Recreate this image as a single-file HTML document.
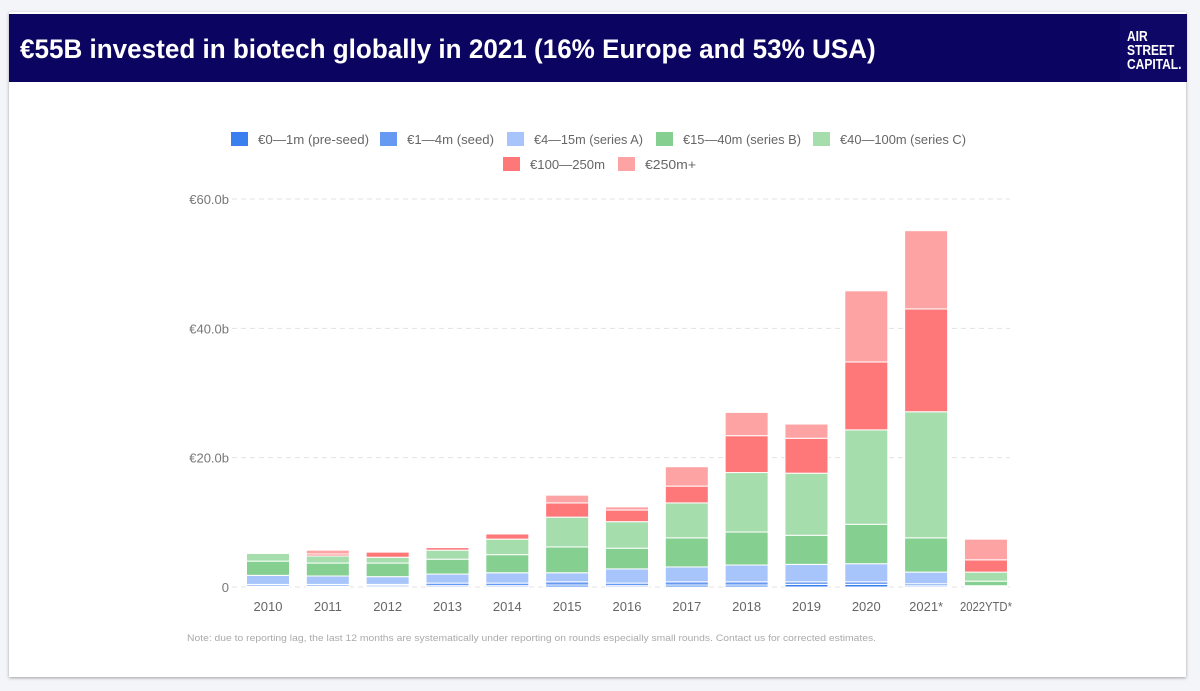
<!DOCTYPE html>
<html><head><meta charset="utf-8"><style>
html,body{margin:0;padding:0;width:1200px;height:691px;background:#f4f5f8;overflow:hidden;font-family:"Liberation Sans",sans-serif;}
#card{position:absolute;left:9px;top:12px;width:1177px;height:665px;background:#fff;box-shadow:0 1px 3px rgba(0,0,0,.35);}
#hdr{position:absolute;left:9px;top:14px;width:1178px;height:68px;background:#0b0460;}
#title{position:absolute;left:20px;top:14px;height:68px;line-height:70px;color:#fff;font-size:27px;font-weight:bold;white-space:nowrap;transform:scaleX(0.965);transform-origin:0 50%;}
#logo{position:absolute;left:1120px;top:14px;width:67px;height:68px;background:#0e0766;}
#logotext{position:absolute;left:1127px;top:30px;color:#fff;font-weight:bold;font-size:15px;line-height:14px;transform:scaleX(0.8);transform-origin:0 0;white-space:nowrap;}
svg{position:absolute;left:0;top:0;}
</style></head><body>
<div id="card"></div>
<div id="hdr"></div>
<div id="title">€55B invested in biotech globally in 2021 (16% Europe and 53% USA)</div>
<div id="logo"></div>
<div id="logotext">AIR<br>STREET<br>CAPITAL.</div>
<svg id="chart" width="1200" height="691"></svg>
<script>
const categories=["2010","2011","2012","2013","2014","2015","2016","2017","2018","2019","2020","2021*","2022YTD*"];
const seriesNames=["€0—1m (pre-seed)","€1—4m (seed)","€4—15m (series A)","€15—40m (series B)","€40—100m (series C)","€100—250m","€250m+"];
const preSeed=[0.15,0.15,0.2,0.2,0.2,0.3,0.2,0.3,0.3,0.4,0.4,0.2,0.05];
const seed=[0.25,0.25,0.2,0.4,0.4,0.5,0.4,0.5,0.5,0.4,0.4,0.3,0.05];
const seriesA=[1.4,1.3,1.2,1.4,1.6,1.4,2.2,2.3,2.6,2.7,2.8,1.8,0.1];
const seriesB=[2.2,2.0,2.1,2.3,2.8,4.0,3.2,4.5,5.1,4.5,6.1,5.3,0.7];
const seriesC=[1.2,1.1,0.9,1.4,2.4,4.6,4.1,5.4,9.2,9.6,14.6,19.5,1.4];
const series100=[0.05,0.3,0.8,0.4,0.8,2.2,1.8,2.6,5.7,5.4,10.5,15.9,1.9];
const series250=[0.15,0.6,0.1,0.1,0,1.2,0.5,3.0,3.6,2.2,11.0,12.1,3.2];
const yTicks=[0,20,40,60];
const yTickLabels=["0","€20.0b","€40.0b","€60.0b"];
const colors=["#3a7fef","#6699f2","#a7c5fa","#85cf90","#a6ddac","#fe7879","#fea3a3"];
const NS="http://www.w3.org/2000/svg";
const svg=document.getElementById('chart');
const y0=587,pxPer=(587-199)/60,x0=268,step=59.83,bw=43;
const yS=v=>y0-v*pxPer, xS=i=>x0+i*step;
function mk(t,a){const e=document.createElementNS(NS,t);for(const k in a)e.setAttribute(k,a[k]);svg.appendChild(e);return e;}
yTicks.forEach((t,i)=>{
 const l=mk('line',{x1:232,x2:1010,y1:yS(t),y2:yS(t),stroke:'#e3e3e3','stroke-dasharray':'5,4'});
 
 
 const tx=mk('text',{x:229,y:yS(t)+5,'text-anchor':'end','font-size':13,fill:'#777'});
 tx.textContent=yTickLabels[i];
 
 
});
const all=[preSeed,seed,seriesA,seriesB,seriesC,series100,series250];
categories.forEach((c,i)=>{
 let cum=0;
 all.forEach((s,k)=>{
  const v=s[i]; if(v<=0)return;
  const r=mk('rect',{x:xS(i)-bw/2,y:yS(cum+v),width:bw,height:v*pxPer,fill:colors[k],stroke:'#fff','stroke-width':1});
  
  
  cum+=v;
 });
 const t=mk('text',{x:xS(i),y:611,'text-anchor':'middle','font-size':13,fill:'#666'});
 t.textContent=c;
 if(c.length>6){t.setAttribute('textLength',52);t.setAttribute('lengthAdjust','spacingAndGlyphs');}
 
 
});
// legend: [swatch x, series index, text end x]
const row1=[[231,0,369],[380,1,494],[507,2,643],[656,3,801],[813,4,966]],row2=[[503,5,605],[618,6,696]];
[[row1,139],[row2,164]].forEach(([row,yy])=>row.forEach(([x,k,e])=>{
 const r=mk('rect',{x:x,y:yy-7,width:17,height:14,fill:colors[k]});
 
 
 const t=mk('text',{x:x+27,y:yy+5,'font-size':13,fill:'#666',textLength:e-x-27,lengthAdjust:'spacingAndGlyphs'});
 t.textContent=seriesNames[k];
 
 
}));
const n=mk('text',{x:187,y:641,'font-size':9.5,fill:'#aaa',textLength:689,lengthAdjust:'spacingAndGlyphs'});
n.textContent="Note: due to reporting lag, the last 12 months are systematically under reporting on rounds especially small rounds. Contact us for corrected estimates.";


</script>
</body></html>
